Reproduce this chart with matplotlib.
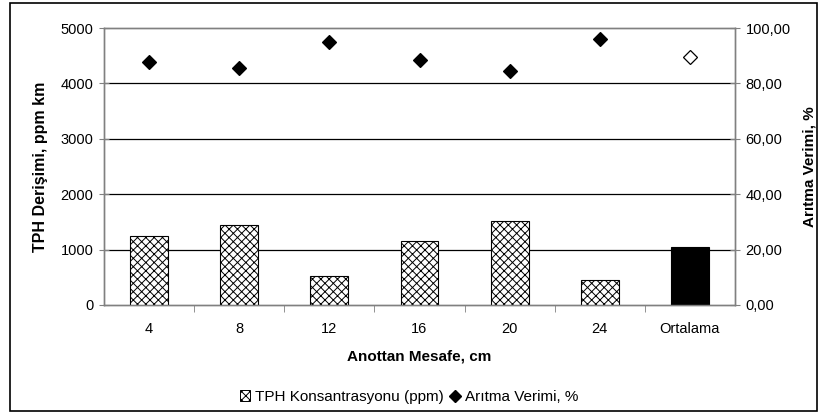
import matplotlib.pyplot as plt
import matplotlib.patches as patches
from matplotlib.ticker import FuncFormatter
from matplotlib.lines import Line2D

plt.rcParams['font.family'] = ['Liberation Sans', 'DejaVu Sans']
plt.rcParams['hatch.linewidth'] = 0.7

# data
categories = ['4', '8', '12', '16', '20', '24', 'Ortalama']
tph = [1250, 1440, 520, 1155, 1520, 450, 1055]
verim = [87.7, 85.4, 94.8, 88.4, 84.6, 95.9, 89.5]

fig = plt.figure(figsize=(8.18, 4.12), dpi=100)
ax = fig.add_axes([104/818, 1-305/412, (735-104)/818, (305-28)/412])
ax2 = ax.twinx()

x = list(range(len(categories)))
gray = '#808080'

# bars: hatched for measurements, solid black for the mean
for i in x:
    if categories[i] == 'Ortalama':
        ax.bar(i, tph[i], width=0.42, color='black', edgecolor='black', linewidth=0.8, zorder=3)
    else:
        ax.bar(i, tph[i], width=0.42, color='white', edgecolor='black', hatch='xxxx',
               linewidth=0.8, zorder=3)

# diamonds
for i in x:
    fc = 'white' if categories[i] == 'Ortalama' else 'black'
    ax2.plot(i, verim[i], marker='D', markersize=7, markerfacecolor=fc,
             markeredgecolor='black', markeredgewidth=0.9, linestyle='none', zorder=4)

ax.set_xlim(-0.5, len(categories) - 0.5)
ax.set_ylim(0, 5000)
ax2.set_ylim(0, 100)

ax.set_yticks([0, 1000, 2000, 3000, 4000, 5000])
ax2.set_yticks([0, 20, 40, 60, 80, 100])
ax2.yaxis.set_major_formatter(FuncFormatter(lambda v, p: f'{v:.2f}'.replace('.', ',')))

# gridlines
for g in [1000, 2000, 3000, 4000]:
    ax.axhline(g, color='black', linewidth=0.9, zorder=1)

ax.set_xticks(x)
ax.set_xticklabels(categories)
ax.set_xticks([i + 0.5 for i in x[:-1]], minor=True)
ax.tick_params(axis='x', which='major', length=0, pad=12, labelsize=10.5)
ax.tick_params(axis='x', which='minor', length=5, color=gray, direction='out')
ax.tick_params(axis='y', length=7, direction='inout', color=gray, labelsize=10.5, pad=4)
ax2.tick_params(axis='y', length=7, direction='inout', color=gray, labelsize=10.5, pad=4)

for a in (ax, ax2):
    for s in a.spines.values():
        s.set_color(gray)
        s.set_linewidth(1.0)

ax.set_ylabel('TPH Derişimi, ppm km', fontsize=11.5, fontweight='bold')
ax.yaxis.set_label_coords((48 - 104) / 631, 0.5)
ax2.set_ylabel('Arıtma Verimi, %', fontsize=11, fontweight='bold', rotation=90)
ax2.yaxis.set_label_coords((802 - 104) / 631, 0.5)
ax.set_xlabel('Anottan Mesafe, cm', fontsize=11, fontweight='bold', labelpad=10)

# legend
h1 = patches.Patch(facecolor='white', edgecolor='black', hatch='xxxx', linewidth=0.7)
h2 = Line2D([], [], marker='D', color='black', linestyle='none', markersize=6)
fig.legend([h1, h2], ['TPH Konsantrasyonu (ppm)', 'Arıtma Verimi, %'],
           loc='center', bbox_to_anchor=(0.5, 1-397/412), ncol=2, frameon=False,
           fontsize=11, handlelength=0.7, handletextpad=0.3, columnspacing=0.4)

# outer frame
fig.add_artist(patches.Rectangle((10/818, 1/412), 807/818, 408/412, transform=fig.transFigure,
                                 fill=False, edgecolor='black', linewidth=1.2))

fig.savefig('out.png', dpi=100)
